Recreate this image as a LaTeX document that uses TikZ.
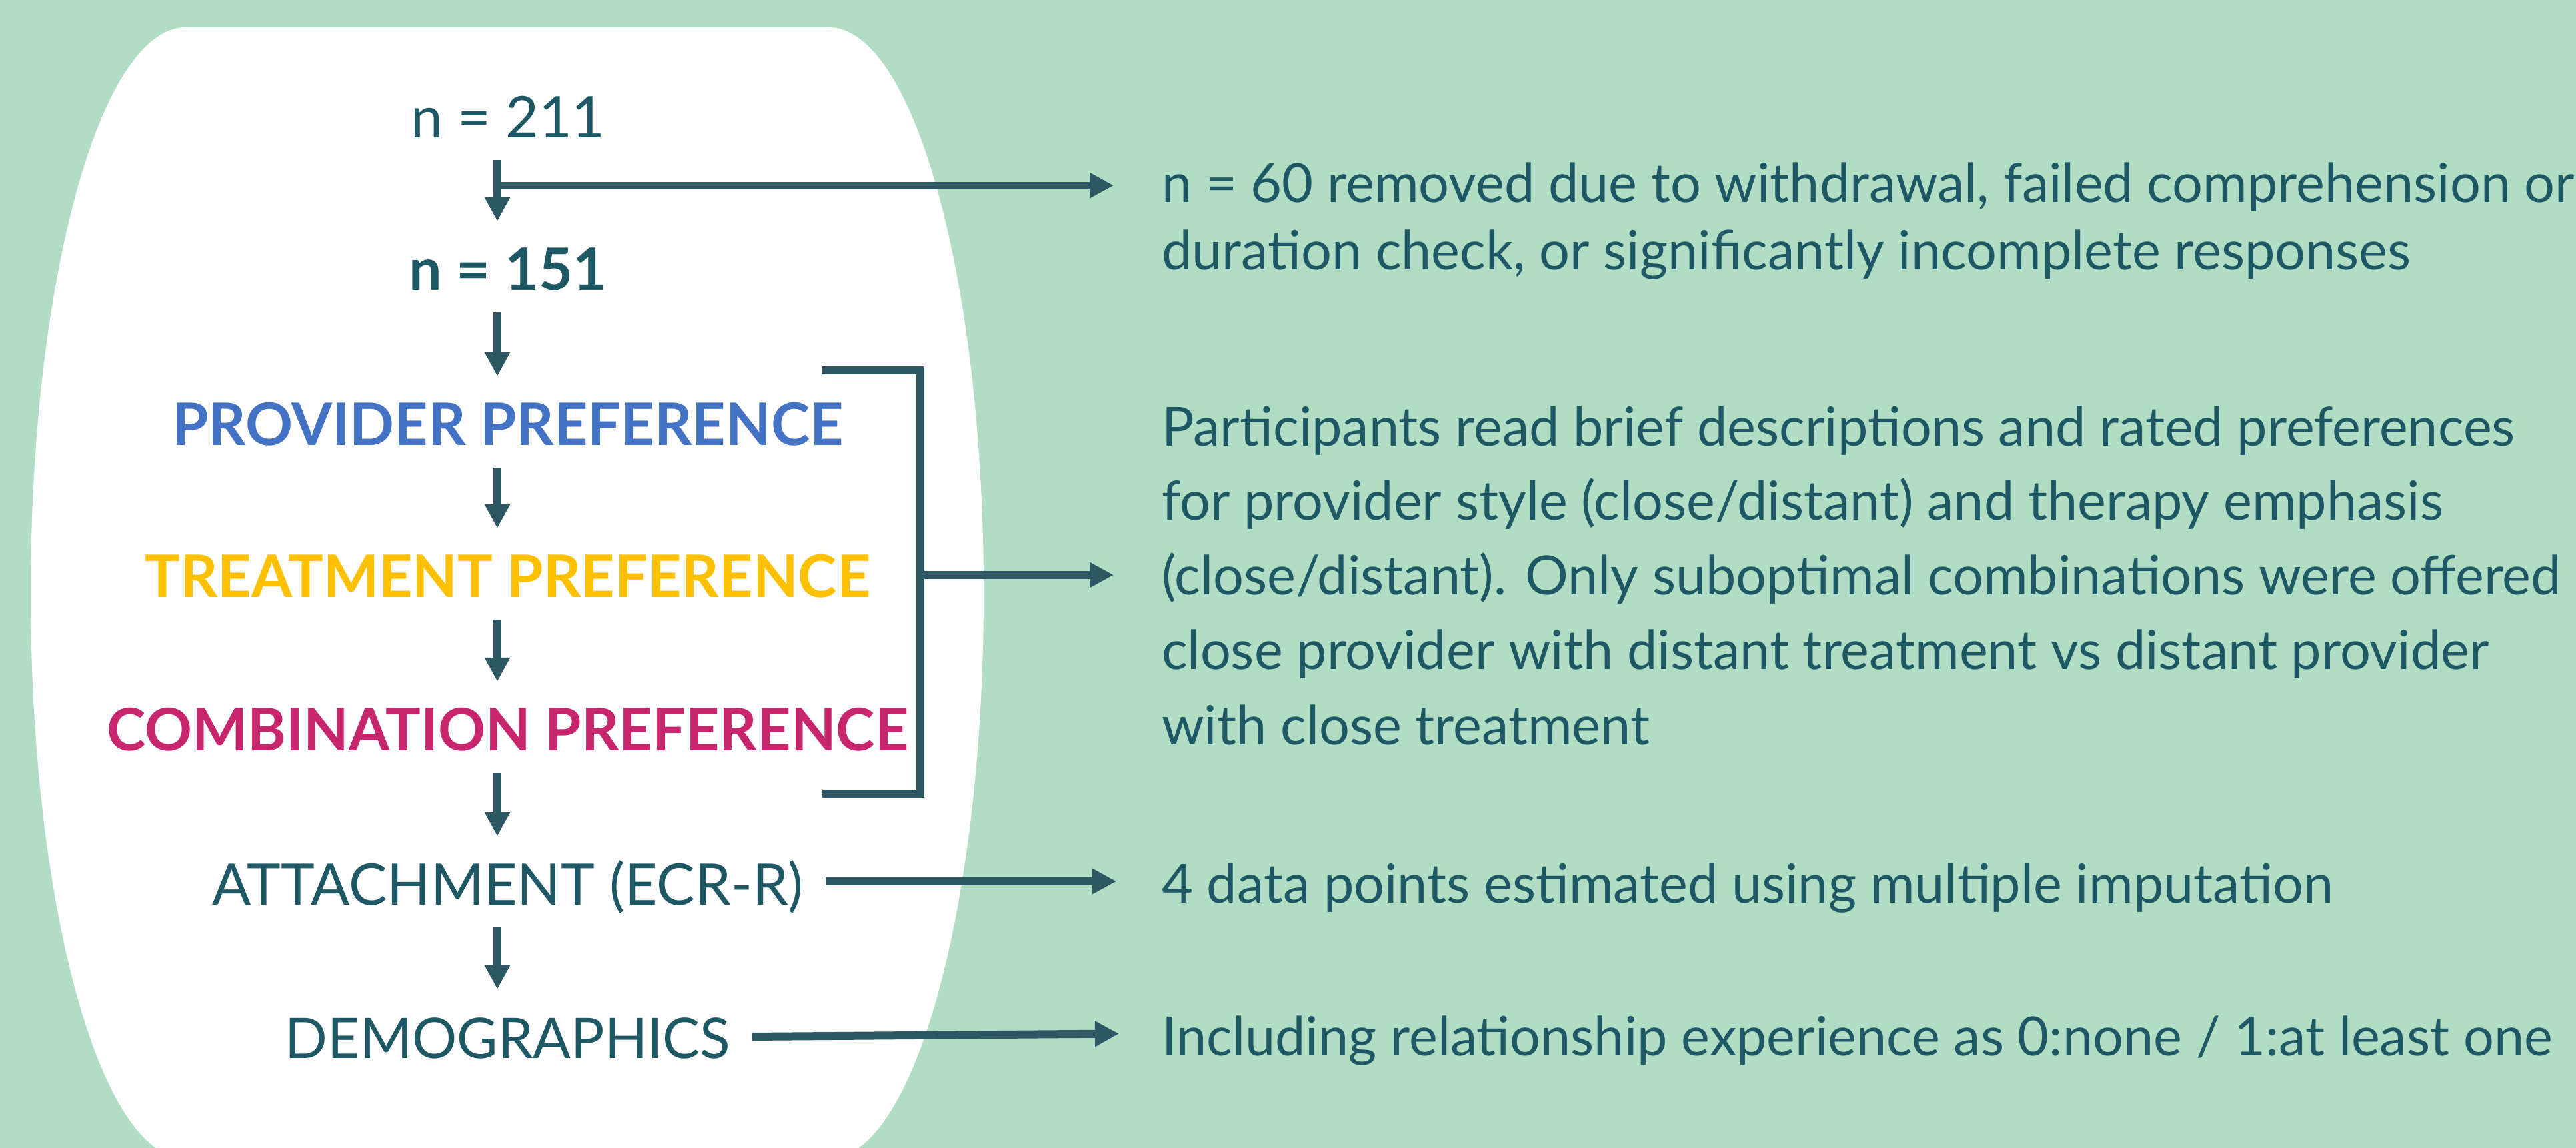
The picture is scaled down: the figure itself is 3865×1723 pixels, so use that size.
\documentclass[tikz,border=0pt]{standalone}
\usepackage{fontspec}
\setmainfont{Lato}
\usetikzlibrary{arrows.meta,calc}
\definecolor{mint}{HTML}{B0DDC4}
\definecolor{ink}{HTML}{1E5864}
\definecolor{lineink}{HTML}{2D5863}
\definecolor{provblue}{HTML}{4472C4}
\definecolor{treatgold}{HTML}{FFC000}
\definecolor{combmag}{HTML}{C8256F}
\begin{document}
\begin{tikzpicture}[x=1pt,y=1pt,
  stage/.style={inner sep=0pt, anchor=base, text height=62pt, text depth=0pt,
    text=ink, font=\fontsize{86}{100}\selectfont},
  stagebold/.style={stage, font=\fontsize{88}{100}\selectfont\bfseries},
  note/.style={inner sep=0pt, anchor=base west, text height=54pt, text depth=0pt,
    text=ink, font=\fontsize{81}{96}\selectfont},
  flow/.style={draw=lineink, line width=12pt, -{Triangle[length=36pt,width=36pt]}},
  link/.style={draw=lineink, line width=12pt, line join=miter}
]
\useasboundingbox (0,0) rectangle (3865,1723);
\fill[mint] (0,0) rectangle (3865,1723);

% white panel behind the flow
\fill[white] (1243,1682)
  arc[start angle=90,end angle=0,x radius=233,y radius=849]
  arc[start angle=0,end angle=-90,x radius=233,y radius=849]
  -- (279,-16)
  arc[start angle=270,end angle=180,x radius=233,y radius=849]
  arc[start angle=180,end angle=90,x radius=233,y radius=849]
  -- cycle;

% flow stages
\node[stage] (n211) at (762,1516) {n = 211};
\node[stagebold] (n151) at (762,1287) {n = 151};
\node[stagebold, text=provblue] (prov) at (762,1054) {PROVIDER PREFERENCE};
\node[stagebold, text=treatgold] (treat) at (762,826) {TREATMENT PREFERENCE};
\node[stagebold, text=combmag] (comb) at (762,596) {COMBINATION PREFERENCE};
\node[stage] (att) at (762,364) {ATTACHMENT (ECR-R)};
\node[stage, font=\fontsize{84}{100}\selectfont] (demo) at (762,134) {DEMOGRAPHICS};

% side notes
\node[note] (rem1) at (1743,1419) {n = 60 removed due to withdrawal, failed comprehension or};
\node[note] (rem2) at (1743,1318) {duration check, or significantly incomplete responses};
\node[note] (part1) at (1743,1053) {Participants read brief descriptions and rated preferences};
\node[note] (part2) at (1743,942) {for provider style (close/distant) and therapy emphasis};
\node[note] (part3) at (1743,830) {(close/distant). Only suboptimal combinations were offered};
\node[note] (part4) at (1743,718) {close provider with distant treatment vs distant provider};
\node[note] (part5) at (1743,605) {with close treatment};
\node[note] (data) at (1743,367) {4 data points estimated using multiple imputation};
\node[note] (incl) at (1743,138) {Including relationship experience as 0:none / 1:at least one};

% vertical flow arrows
\coordinate (spine) at (746,0);
\foreach \a/\b in {n211/n151, n151/prov, prov/treat, treat/comb, comb/att, att/demo}
  \draw[flow, shorten <=33pt, shorten >=42pt] (\a.south -| spine) -- (\b.north -| spine);

% exclusions branch
\coordinate (fork) at ($(n211.south -| spine)+(0,-71)$);
\draw[flow, line width=11pt, shorten >=72pt] (fork) -- (fork -| rem1.west);

% bracket around the three preference stages
\coordinate (brtop) at (1234,1167);
\coordinate (brbot) at (1234,532);
\coordinate (brcorner) at (1381,532);
\draw[link] (brtop) -| (brcorner) -- (brbot);
\coordinate (brmid) at (1381,860);
\draw[flow, shorten >=72pt] (brmid) -- (brmid -| part3.west);

% measurement and demographic notes
\draw[flow, shorten >=68pt] ($(att.east)+(33,5)$) -- ($(data.west)+(0,6)$);
\draw[flow, shorten >=64pt] ($(demo.east)+(32,2)$) -- ($(incl.west)+(0,7)$);
\end{tikzpicture}
\end{document}
